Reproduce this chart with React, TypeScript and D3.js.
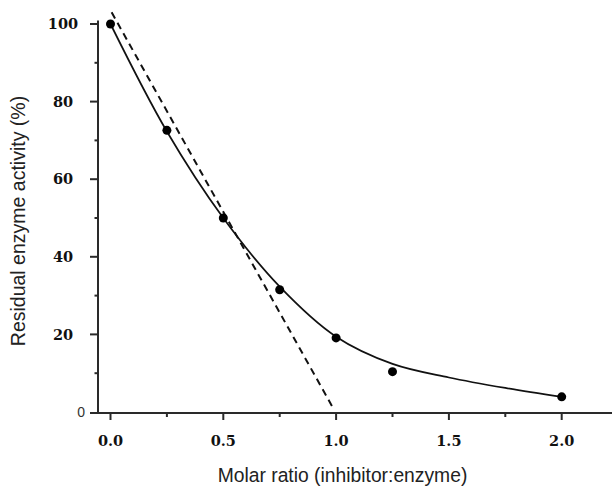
import React from "react";
import * as d3 from "d3";

const ratioX = [0, 0.25, 0.5, 0.75, 1.0, 1.25, 2.0];
const activityY = [100, 72.6, 50, 31.5, 19.1, 10.4, 3.9];

const fitX = [0, 0.25, 0.5, 0.75, 1.0, 1.25, 1.5, 1.75, 2.0];
const fitY = [100, 72.3, 50, 32.3, 19.4, 12.4, 8.9, 6.2, 3.9];

const dashX = [0.005, 0.985];
const dashY = [103, 1.2];

const xMajorTicks = [0, 0.5, 1.0, 1.5, 2.0];
const xMinorTicks = [0.25, 0.75, 1.25, 1.75];
const yMajorTicks = [20, 40, 60, 80, 100];
const yMinorTicks = [10, 30, 50, 70, 90];

export default function App() {
  const W = 612, H = 492;
  const x = d3.scaleLinear().domain([0, 2]).range([110.5, 561.7]);
  const y = d3.scaleLinear().domain([0, 100]).range([412, 24]);
  const axisX = 98;
  const axisY = 413;
  const axisColor = "#2a2a2a";

  const curve = d3
    .line<number>()
    .x((_, i) => x(fitX[i]))
    .y((d) => y(d))
    .curve(d3.curveCatmullRom.alpha(0.5))(fitY);

  const dash = d3
    .line<number>()
    .x((_, i) => x(dashX[i]))
    .y((d) => y(d))(dashY);

  const serif = "'DejaVu Serif', serif";
  const sans = "'Liberation Sans', Arial, sans-serif";

  return (
    <svg width={W} height={H} style={{ position: "absolute", left: 0, top: 0, background: "#fff" }}>
      {/* axes */}
      <line x1={axisX} x2={axisX} y1={20.5} y2={axisY} stroke={axisColor} strokeWidth={2} />
      <line x1={90} x2={612} y1={axisY} y2={axisY} stroke={axisColor} strokeWidth={2} />
      {yMajorTicks.map((t) => (
        <g key={"ym" + t}>
          <line x1={90} x2={axisX} y1={y(t)} y2={y(t)} stroke={axisColor} strokeWidth={2} />
          <text x={63} y={y(t)} dy="0.36em" textAnchor="middle" fontFamily={serif} fontWeight="bold" fontSize={14.5} fill="#111">
            {t}
          </text>
        </g>
      ))}
      <text x={85} y={y(0)} dy="0.36em" textAnchor="end" fontFamily={sans} fontSize={14} fill="#333">0</text>
      {yMinorTicks.map((t) => (
        <line key={"yn" + t} x1={94.5} x2={axisX} y1={y(t)} y2={y(t)} stroke={axisColor} strokeWidth={2} />
      ))}
      {xMajorTicks.map((t) => (
        <g key={"xm" + t}>
          <line x1={x(t)} x2={x(t)} y1={axisY} y2={axisY + 7} stroke={axisColor} strokeWidth={2} />
          <text x={x(t)} y={446} textAnchor="middle" fontFamily={serif} fontWeight="bold" fontSize={14.5} fill="#111">
            {t.toFixed(1)}
          </text>
        </g>
      ))}
      {xMinorTicks.map((t) => (
        <line key={"xn" + t} x1={x(t)} x2={x(t)} y1={axisY} y2={axisY + 4} stroke={axisColor} strokeWidth={2} />
      ))}
      {/* dashed line */}
      <path d={dash ?? ""} fill="none" stroke="#111" strokeWidth={2} strokeDasharray="7,5" />
      {/* fitted curve */}
      <path d={curve ?? ""} fill="none" stroke="#111" strokeWidth={1.7} />
      {/* points */}
      {ratioX.map((v, i) => (
        <circle key={"p" + i} cx={x(v)} cy={y(activityY[i])} r={4.5} fill="#000" />
      ))}
      {/* labels */}
      <text x={342.5} y={482} textAnchor="middle" fontFamily={sans} fontSize={19.3} fill="#222">
        Molar ratio (inhibitor:enzyme)
      </text>
      <text
        transform={`translate(25,${221}) rotate(-90)`}
        textAnchor="middle"
        fontFamily={sans}
        fontSize={19.5}
        fill="#222"
      >
        Residual enzyme activity (%)
      </text>
    </svg>
  );
}
